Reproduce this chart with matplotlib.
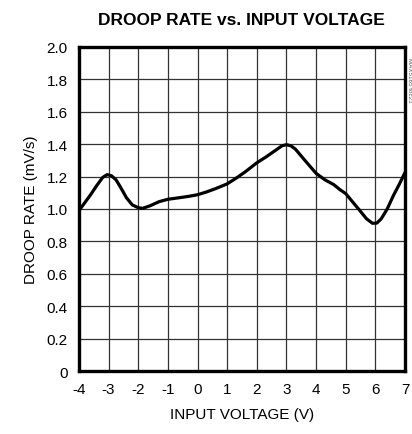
import matplotlib
matplotlib.use("Agg")
import matplotlib.pyplot as plt
from matplotlib import font_manager

# Values
input_voltage = [-4, -3.8, -3.6, -3.4, -3.2, -3.05, -2.9, -2.75, -2.6, -2.4, -2.2, -2.0, -1.85,
                 -1.6, -1.3, -1.0, -0.6, -0.3, 0, 0.3, 0.6, 1.0, 1.3, 1.6, 2.0, 2.3, 2.6,
                 2.85, 3.0, 3.15, 3.3, 3.6, 4.0, 4.3, 4.6, 4.8, 5.0, 5.25, 5.5, 5.7, 5.9,
                 6.05, 6.2, 6.4, 6.6, 6.8, 7.0]
droop_rate = [0.99, 1.04, 1.09, 1.145, 1.195, 1.212, 1.205, 1.18, 1.135, 1.07, 1.025, 1.008, 1.004,
              1.02, 1.045, 1.06, 1.07, 1.078, 1.088, 1.105, 1.125, 1.155, 1.19, 1.228, 1.285, 1.32, 1.358,
              1.39, 1.397, 1.39, 1.37, 1.305, 1.22, 1.18, 1.15, 1.12, 1.095, 1.04, 0.985, 0.94, 0.912,
              0.913, 0.94, 1.0, 1.08, 1.15, 1.225]
x_ticks = list(range(-4, 8))
y_ticks = [0, 0.2, 0.4, 0.6, 0.8, 1.0, 1.2, 1.4, 1.6, 1.8, 2.0]
y_tick_labels = ["0", "0.2", "0.4", "0.6", "0.8", "1.0", "1.2", "1.4", "1.6", "1.8", "2.0"]

names = {f.name for f in font_manager.fontManager.ttflist}
narrow = "Liberation Sans Narrow" if "Liberation Sans Narrow" in names else "Liberation Sans"
plt.rcParams["font.family"] = [narrow, "DejaVu Sans"]

fig = plt.figure(figsize=(4.12, 4.35), dpi=100)
ax = fig.add_axes([0.1917, 0.1448, 0.7913, 0.7449])

ax.plot(input_voltage, droop_rate, color="black", lw=2.3, solid_joinstyle="round",
        solid_capstyle="round", zorder=3)

ax.set_xlim(-4, 7)
ax.set_ylim(0, 2.0)
ax.set_xticks(x_ticks)
ax.set_xticklabels([str(t) for t in x_ticks])
ax.set_yticks(y_ticks)
ax.set_yticklabels(y_tick_labels)
ax.tick_params(length=0, labelsize=11, pad=8)
ax.grid(True, color="#333333", lw=0.9)
for s in ax.spines.values():
    s.set_linewidth(2.4)

ax.set_xlabel("INPUT VOLTAGE (V)", fontsize=11, labelpad=8)
ax.set_ylabel("DROOP RATE (mV/s)", fontsize=11, labelpad=6)

fig.text(0.587, 0.954, "DROOP RATE vs. INPUT VOLTAGE", ha="center", va="center",
         fontsize=12.5, fontweight="bold")
fig.text(0.993, 0.815, "MAX5165 toc21", rotation=270, ha="center", va="center",
         fontsize=4.5, color="#555555")

fig.savefig("out.png", dpi=100)
